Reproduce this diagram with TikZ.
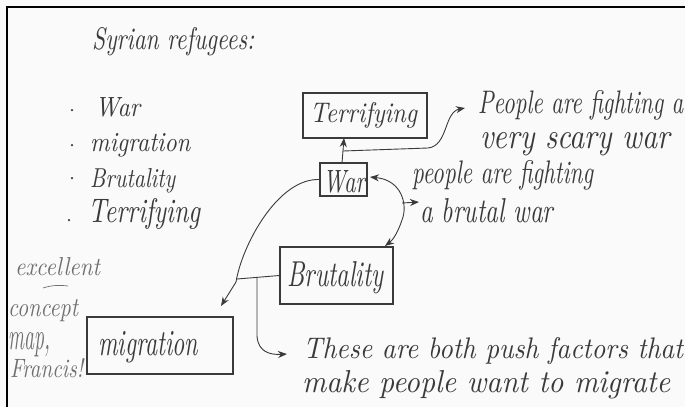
\documentclass[tikz,border=0pt]{standalone}
\usepackage{graphicx}
\usetikzlibrary{arrows.meta}
\definecolor{pencil}{HTML}{3A3A3A}
\definecolor{lightpencil}{HTML}{707070}
\definecolor{paper}{HTML}{FAFAFA}
\newcommand{\handw}[3]{\resizebox{#1pt}{#2pt}{\itshape #3}}
\tikzset{
  hand/.style={text=pencil, inner sep=0pt, anchor=base west},
  note/.style={hand, text=lightpencil},
  boxnode/.style={draw=pencil, line width=1.1pt, inner sep=0pt, text=pencil},
  link/.style={draw=pencil, line width=0.9pt},
  arr/.style={link, -{Stealth[length=9pt,width=7pt]}},
  arrboth/.style={link, {Stealth[length=9pt,width=7pt]}-{Stealth[length=9pt,width=7pt]}},
  dotmark/.style={circle, fill=pencil, inner sep=0pt, minimum size=2.5pt}
}
\begin{document}
\begin{tikzpicture}[x=1pt,y=-1pt]
\fill[paper] (0,0) rectangle (685,407);
\useasboundingbox (0,0) rectangle (685,407);
\draw[black, line width=2pt] (7,407) -- (7,7) -- (685,7);

% title
\node[hand] (title) at (92,49) {\handw{162}{22}{Syrian refugees:}};

% bullet list
\node[dotmark] (d1) at (72,110) {};
\node[dotmark] (d2) at (72,145) {};
\node[dotmark] (d3) at (72,178) {};
\node[dotmark] (d4) at (69,220) {};
\node[hand] (l1) at (95,116) {\handw{45}{19}{War}};
\node[hand] (l2) at (90,151) {\handw{100}{18}{migration}};
\node[hand] (l3) at (90,187) {\handw{85}{19}{Brutality}};
\node[hand] (l4) at (88,222) {\handw{112}{24}{Terrifying}};

% boxes
\node[boxnode, minimum width=124pt, minimum height=45pt] (terr) at (365,115.5) {};
\node[hand] (terrt) at (310,122) {\handw{107}{20}{Terrifying}};
\node[boxnode, minimum width=47pt, minimum height=33pt] (war) at (343.5,179.5) {};
\node[hand] (wart) at (323,192) {\handw{42}{22}{War}};
\node[boxnode, minimum width=113pt, minimum height=57pt] (brut) at (336.5,275.5) {};
\node[hand] (brutt) at (287,286) {\handw{96}{25}{Brutality}};
\node[boxnode, minimum width=146pt, minimum height=57pt] (migr) at (160,345.5) {};
\node[hand] (migrt) at (98,355) {\handw{100}{24}{migration}};

% texts
\node[hand] (t1a) at (478,113) {\handw{205}{23}{People are fighting a}};
\node[hand] (t1b) at (480,148) {\handw{190}{16}{very scary war}};
\node[hand] (t2a) at (412,183) {\handw{181}{23}{people are fighting}};
\node[hand] (t2b) at (420,222) {\handw{133}{24}{a brutal war}};
\node[hand] (t3a) at (303,358) {\handw{380}{21}{These are both push factors that}};
\node[hand] (t3b) at (302,392) {\handw{368}{22}{make people want to migrate}};

% margin comment
\node[note] (m1) at (15,275) {\handw{85}{18}{excellent}};
\draw[draw=lightpencil, line width=0.7pt] (43,288) .. controls (52,285) and (60,285) .. (68,286);
\node[note] (m2) at (8,316) {\handw{70}{17}{concept}};
\node[note] (m3) at (8,349) {\handw{42}{17}{map,}};
\node[note] (m4) at (10,377) {\handw{73}{19}{Francis!}};

% connectors
\coordinate (wtop) at (342,163);
\coordinate (tbot) at (344,138);
\draw[arr] (wtop) -- (tbot);
\coordinate (j1) at (343,151);
\coordinate (e1) at (465,108);
\draw[arr] (j1) -- (428,148) .. controls (448,146) and (444,112) .. (e1);

\coordinate (w1) at (370,177);
\coordinate (b1) at (385,246);
\draw[arrboth] (w1) .. controls (402,180) and (408,205) .. (402,220) .. controls (398,232) and (393,240) .. (b1);
\coordinate (j2) at (402,203);
\coordinate (e2) at (419,202);
\draw[arr] (j2) -- (e2);

\coordinate (m0) at (221,306);
\draw[arr] (war.west) .. controls (278,178) and (242,245) .. (236,282) -- (m0);
\coordinate (j3) at (237,279);
\draw[link] (brut.west) -- (j3);
\coordinate (j4) at (257,277);
\coordinate (e3) at (287,354);
\draw[arr] (j4) -- (257,336) .. controls (258,352) and (270,355) .. (e3);
\end{tikzpicture}
\end{document}
